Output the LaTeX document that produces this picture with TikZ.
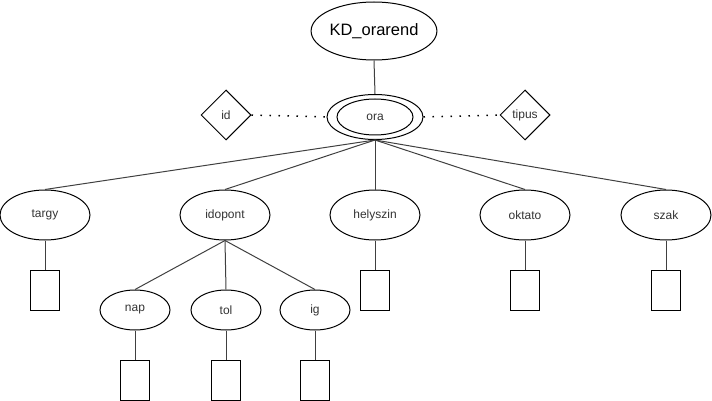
\documentclass[tikz,border=0pt]{standalone}
\usepackage{fontspec}
\setmainfont{Liberation Sans}
\usetikzlibrary{shapes.geometric}
\begin{document}
\begin{tikzpicture}[x=1pt,y=-1pt,
  every node/.style={font=\fontsize{12}{14}\selectfont, text=black!80},
  ent/.style={draw, line width=1pt, ellipse, inner sep=0pt, minimum width=90pt, minimum height=50pt},
  subattr/.style={draw, line width=1pt, ellipse, inner sep=0pt, minimum width=70pt, minimum height=40pt},
  rel/.style={draw, line width=1pt, diamond, aspect=1, inner sep=0pt, minimum width=50pt, minimum height=50pt},
  valbox/.style={draw, line width=1pt, rectangle, inner sep=0pt, minimum width=29pt, minimum height=40pt},
  link/.style={draw=black!75, line width=1pt},
  dotlink/.style={draw=black, line width=1.5pt, dash pattern=on 1.5pt off 7.5pt}
]
\useasboundingbox (0,0) rectangle (712,401);

% top entity
\node[draw, line width=1pt, ellipse, inner sep=0pt, minimum width=112pt, minimum height=58pt,
      font=\fontsize{16.5}{19}\selectfont, text=black] (kd) at (374,31) {KD\_orarend};

% central double ellipse with its identifiers
\node[draw, line width=1pt, ellipse, inner sep=0pt, minimum width=96pt, minimum height=45pt] (ora) at (375,117) {};
\node[draw, line width=1pt, ellipse, inner sep=0pt, minimum width=76pt, minimum height=36pt] (orain) at (375,117) {ora};
\node[rel] (id) at (226,115) {id};
\node[rel] (tipus) at (525,115) {tipus};

% attributes
\node[ent] (targy) at (45,215) {targy};
\node[ent] (idopont) at (225,215) {idopont};
\node[ent] (helyszin) at (375,215) {helyszin};
\node[ent] (oktato) at (525,215) {oktato};
\node[ent] (szak) at (666,215) {szak};

% parts of idopont
\node[subattr] (nap) at (135,310) {nap};
\node[subattr] (tol) at (226,310) {tol};
\node[subattr] (ig) at (315,310) {ig};

% value boxes
\node[valbox] (bt) at (45,290) {};
\node[valbox] (bh) at (375,290) {};
\node[valbox] (bo) at (525,290) {};
\node[valbox] (bs) at (666,290) {};
\node[valbox] (bn) at (135,380) {};
\node[valbox] (bto) at (226,380) {};
\node[valbox] (bi) at (315,380) {};

% connectors
\draw[link] (kd.south) -- (ora.north);
\draw[dotlink] (id.east) -- (ora.west);
\draw[dotlink] (ora.east) -- (tipus.west);
\foreach \n in {targy,idopont,helyszin,oktato,szak}
  \draw[link] (ora.south) -- (\n.north);
\foreach \n in {nap,tol,ig}
  \draw[link] (idopont.south) -- (\n.north);
\draw[link] (targy.south) -- (bt.north);
\draw[link] (helyszin.south) -- (bh.north);
\draw[link] (oktato.south) -- (bo.north);
\draw[link] (szak.south) -- (bs.north);
\draw[link] (nap.south) -- (bn.north);
\draw[link] (tol.south) -- (bto.north);
\draw[link] (ig.south) -- (bi.north);
\end{tikzpicture}
\end{document}
